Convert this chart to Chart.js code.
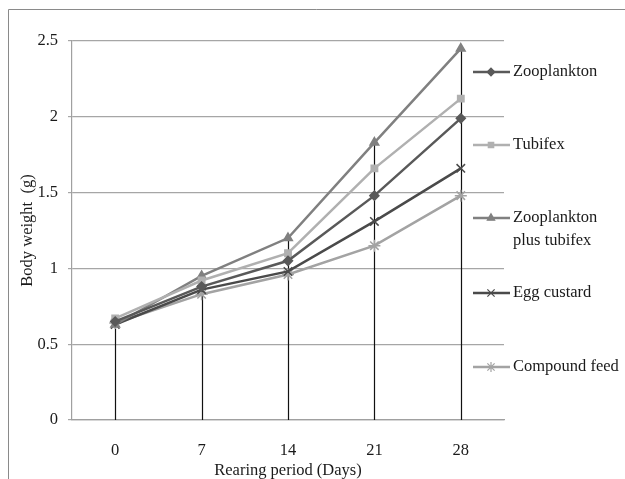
<!DOCTYPE html>
<html>
<head>
<meta charset="utf-8">
<script src="https://cdn.jsdelivr.net/npm/chart.js@4/dist/chart.umd.min.js"></script>
<style>
  html,body{margin:0;padding:0;background:#fff;overflow:hidden}
</style>
</head>
<body>
<canvas id="growthChart" width="625" height="479"></canvas>
<script>
// rearing days (x categories) and body weight (g) per feed
const days = ["0", "7", "14", "21", "28"];
const zooplankton   = [0.65, 0.88, 1.05, 1.48, 1.99];
const tubifex       = [0.67, 0.92, 1.10, 1.66, 2.12];
const zooTubifex    = [0.63, 0.95, 1.20, 1.83, 2.45];
const eggCustard    = [0.63, 0.86, 0.98, 1.31, 1.66];
const compoundFeed  = [0.64, 0.83, 0.96, 1.15, 1.48];
const yTicks = [0, 0.5, 1, 1.5, 2, 2.5];

const FONT = "Liberation Serif";

const series = [
  {label:"Zooplankton",              data:zooplankton,  color:"#595959", style:"rectRot",  r:4.5},
  {label:"Tubifex",                  data:tubifex,      color:"#b0b0b0", style:"rect",     r:4.5},
  {label:"Zooplankton\nplus tubifex", data:zooTubifex,  color:"#808080", style:"triangle", r:5},
  {label:"Egg custard",              data:eggCustard,   color:"#4a4a4a", style:"crossRot", r:6},
  {label:"Compound feed",            data:compoundFeed, color:"#a3a3a3", style:"star",     r:6},
];

// frame round the whole picture (cropped at right/bottom)
const framePlugin = {
  id:"frame",
  beforeDraw(chart) {
    const c = chart.ctx;
    c.save();
    c.fillStyle="#fff"; c.fillRect(0,0,chart.width,chart.height);
    c.strokeStyle="#8a8a8a"; c.lineWidth=1;
    c.beginPath(); c.moveTo(8.5,chart.height); c.lineTo(8.5,9.5); c.lineTo(chart.width,9.5); c.stroke();
    c.restore();
  }
};

// excel-style drop lines from the highest point down to the axis
const dropLines = {
  id:"dropLines",
  beforeDatasetsDraw(chart) {
    const c = chart.ctx, x = chart.scales.x, y = chart.scales.y;
    c.save();
    c.strokeStyle="#111"; c.lineWidth=1.2;
    days.forEach((d,i) => {
      const top = Math.max(...chart.data.datasets.map(ds=>ds.data[i]));
      const px = Math.round(x.getPixelForValue(i))+0.5;
      c.beginPath(); c.moveTo(px, y.getPixelForValue(top)); c.lineTo(px, y.getPixelForValue(0)); c.stroke();
    });
    c.restore();
  }
};

// legend on the right, line sample + marker + (wrapped) text
const sideLegend = {
  id:"sideLegend",
  afterDraw(chart) {
    const c = chart.ctx;
    const rowY = [72, 145, 218, 293, 367];
    c.save();
    chart.data.datasets.forEach((ds,i) => {
      const y = rowY[i];
      c.strokeStyle=ds.borderColor; c.lineWidth=2.5;
      c.beginPath(); c.moveTo(473,y); c.lineTo(510,y); c.stroke();
      c.fillStyle=ds.borderColor; c.lineWidth=1.2;
      Chart.helpers.drawPoint(c, {pointStyle:ds.pointStyle, radius:ds.pointRadius*0.85, borderWidth:1.2, rotation:0}, 491, y);
      c.fillStyle="#1a1a1a"; c.font="16.5px '"+FONT+"'"; c.textBaseline="middle"; c.textAlign="left";
      ds.label.split("\n").forEach((ln,k) => c.fillText(ln, 513, y + k*23));
    });
    c.restore();
  }
};

new Chart(document.getElementById("growthChart").getContext("2d"), {
  type:"line",
  data:{
    labels:days,
    datasets:series.map(s=>({
      label:s.label, data:s.data,
      borderColor:s.color, backgroundColor:s.color,
      pointStyle:s.style, pointRadius:s.r, pointBorderWidth:1.5,
      pointBackgroundColor:s.color, pointBorderColor:s.color,
      borderWidth:2.5, tension:0, fill:false
    }))
  },
  options:{
    responsive:false, animation:false, devicePixelRatio:1,
    layout:{padding:{left:0, right:121, top:41, bottom:0}},
    plugins:{legend:{display:false}, tooltip:{enabled:false}},
    scales:{
      x:{
        offset:true,
        grid:{display:false},
        border:{display:true, color:"#a0a0a0", width:1.2},
        ticks:{padding:13, color:"#1a1a1a", font:{family:FONT, size:16.5}},
        title:{display:true, text:"Rearing period (Days)", color:"#1a1a1a", font:{family:FONT, size:16.5}, padding:{top:0,bottom:-2}},
        afterFit:s=>{ s.height = 59; }
      },
      y:{
        min:0, max:2.5,
        afterBuildTicks:s=>{ s.ticks = yTicks.map(v=>({value:v})); },
        grid:{color:"#a6a6a6", lineWidth:1.2, tickLength:4},
        border:{display:true, color:"#a0a0a0", width:1.2},
        ticks:{padding:10, color:"#1a1a1a", font:{family:FONT, size:16.5}, callback:v=>String(v)},
        title:{display:true, text:"Body weight  (g)", color:"#1a1a1a", font:{family:FONT, size:16.5}, padding:{top:18,bottom:0}},
        afterFit:s=>{ s.width = 72; }
      }
    }
  },
  plugins:[framePlugin, dropLines, sideLegend]
});
</script>
</body>
</html>
